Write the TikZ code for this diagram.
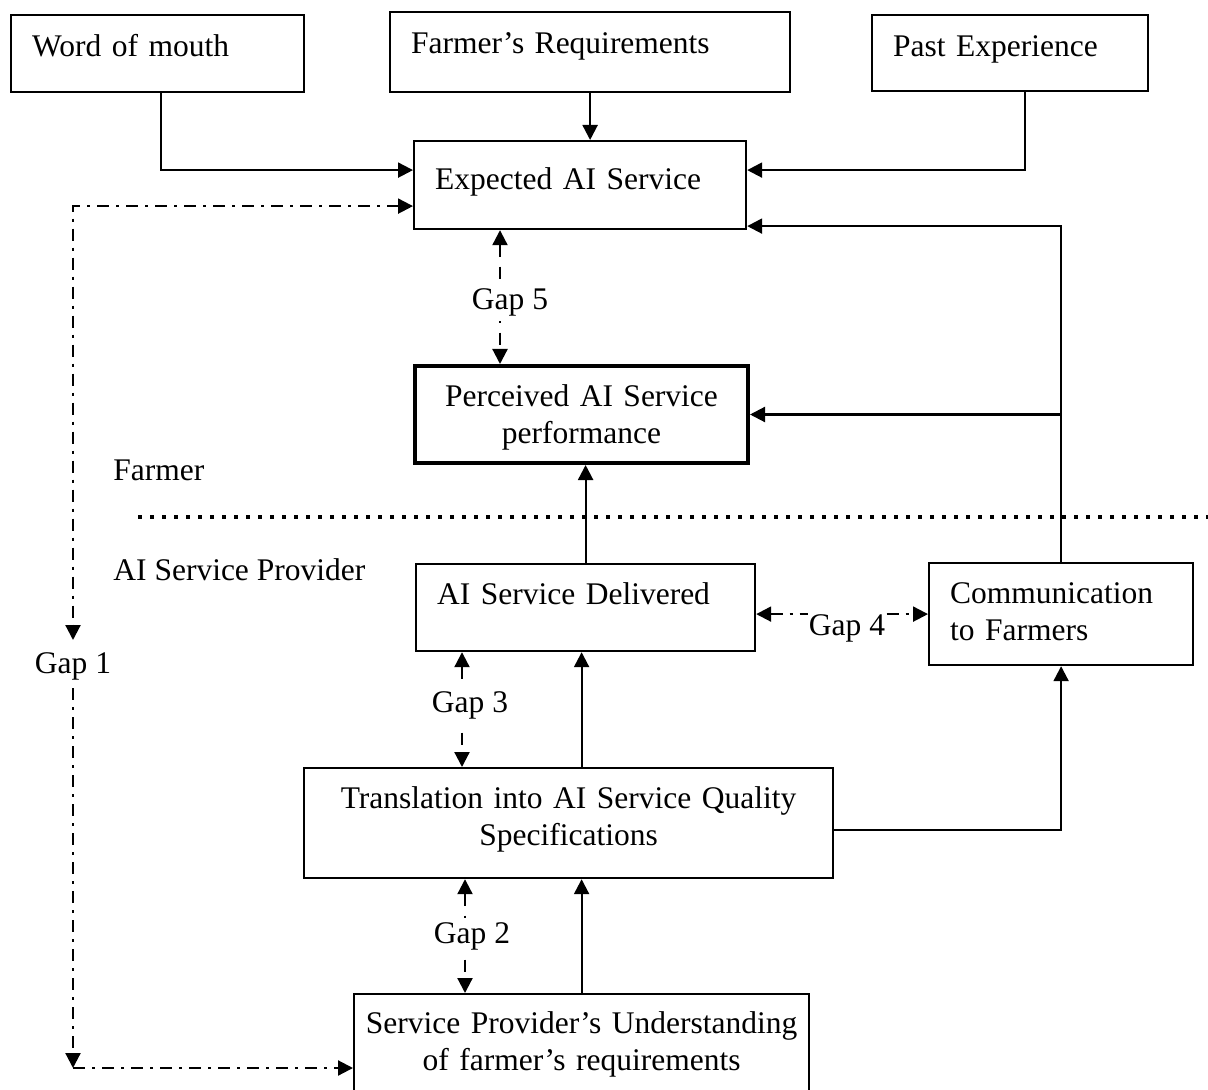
\documentclass[tikz,border=0pt]{standalone}
\usepackage{fontspec}
\setmainfont{Liberation Serif}
\usetikzlibrary{arrows.meta}

\tikzset{
  box/.style={draw, line width=1.1pt, anchor=north west, inner ysep=0pt},
  lbox/.style={box, align=left, inner xsep=10.5pt},
  cbox/.style={box, align=center, inner xsep=0pt},
  link/.style={line width=1.1pt, ->},
  gapdash/.style={line width=1.1pt, dash pattern=on 6pt off 5pt, <->},
  gapdot/.style={line width=1.1pt, dash pattern=on 6pt off 3.5pt on 1.5pt off 3.5pt},
  gaplbl/.style={fill=white, inner sep=2pt, anchor=base},
  side/.style={inner sep=0pt, anchor=base west},
  divider/.style={line width=2pt, dash pattern=on 2pt off 4pt}
}

\begin{document}
\begin{tikzpicture}[x=0.5pt, y=-0.5pt, font=\fontsize{15.75}{18.5}\selectfont,
  >={Triangle[length=7.5pt,width=7.5pt]}]
\useasboundingbox (0,0) rectangle (1208,1090);

% farmer side
\node[lbox, text width=125.5pt, text height=20.5pt, text depth=18pt] (wom) at (10,14) {Word of mouth};
\node[lbox, text width=179pt, text height=20.5pt, text depth=19.5pt] (freq) at (389,11) {Farmer’s Requirements};
\node[lbox, text width=117pt, text height=20.5pt, text depth=17.5pt] (pexp) at (871,14) {Past Experience};
\node[lbox, text width=145pt, text height=24pt, text depth=20pt] (exp) at (413,140) {Expected AI Service};
\node[cbox, line width=2pt, text width=166.5pt, text height=20.5pt, text depth=28pt] (perc) at (413,364) {Perceived AI Service\\performance};

\node[side] (farmer) at (113,480) {Farmer};
\draw[divider] (138,517) -- (1208,517);
\node[side] (prov) at (113,580) {AI Service Provider};

% provider side
\node[lbox, text width=148.5pt, text height=20pt, text depth=23.5pt] (del) at (415,563) {AI Service Delivered};
\node[lbox, text width=111pt, text height=20pt, text depth=31pt] (comm) at (928,562) {Communication\\to Farmers};
\node[cbox, text width=264.5pt, text height=20pt, text depth=35pt] (trans) at (303,767) {Translation into AI Service Quality\\Specifications};
\node[cbox, text width=227.5pt, text height=19.5pt, text depth=36pt] (und) at (353,993) {Service Provider’s Understanding\\of farmer’s requirements};

% solid links
\draw[link] ([xshift=1.75pt]wom.south) |- ([yshift=7.5pt]exp.west);
\draw[link] (freq.south) -- (freq.south |- exp.north);
\draw[link] ([xshift=7.5pt]pexp.south) |- ([yshift=7.5pt]exp.east);
\draw[link] (comm.north) |- ([yshift=-20.5pt]exp.east);
\draw[link] (comm.north |- perc.east) -- (perc.east);
\draw[link] (del.north) -- (del.north |- perc.south);
\draw[link] (und.north |- trans.north) -- (und.north |- del.south);
\draw[link] (und.north) -- (und.north |- trans.south);
\draw[link] ([yshift=-3.5pt]trans.east) -| (comm.south);

% gaps
\coordinate (g5x) at (500,0);
\coordinate (g3x) at (462,0);
\coordinate (g2x) at (465,0);
\coordinate (g1top) at (73,640);
\coordinate (g1bot) at (73,688);
\coordinate (g1corner) at (73,1068);

\draw[gapdash] (exp.south -| g5x) -- (perc.north -| g5x);
\draw[gapdash] (del.south -| g3x) -- (trans.north -| g3x);
\draw[gapdash] (trans.south -| g2x) -- (und.north -| g2x);
\draw[gapdot, <->] (del.east |- comm.west) -- (comm.west);
\draw[gapdot, <->] ([yshift=-10.5pt]exp.west) -| (g1top);
\draw[gapdot, ->] (g1bot) -- (g1corner);
\draw[gapdot, ->] (g1corner) -- (und.west |- g1corner);

\node[gaplbl] (gap5) at (510,310) {Gap 5};
\node[gaplbl] (gap3) at (470,712) {Gap 3};
\node[gaplbl] (gap2) at (472,943) {Gap 2};
\node[gaplbl, inner sep=0.5pt] (gap4) at (847,635) {Gap 4};
\node[gaplbl] (gap1) at (73,673) {Gap 1};
\end{tikzpicture}
\end{document}
